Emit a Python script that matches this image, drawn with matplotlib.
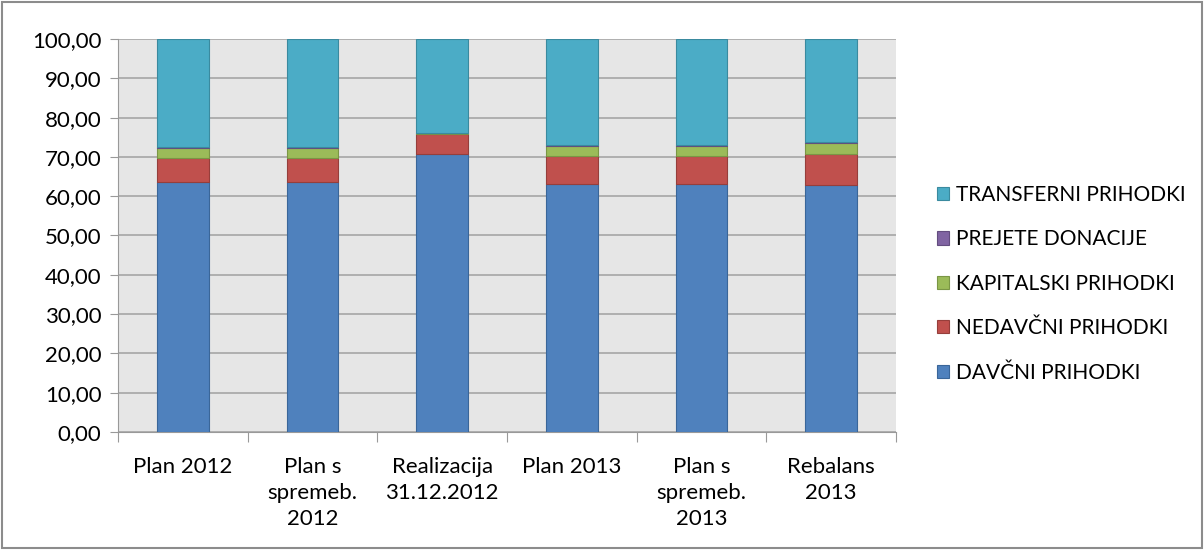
import numpy as np
import matplotlib.pyplot as plt
from matplotlib.patches import Rectangle

plt.rcParams['font.family'] = ['Lato', 'DejaVu Sans']

categories = ["Plan 2012", "Plan s\nspremeb.\n2012", "Realizacija\n31.12.2012",
              "Plan 2013", "Plan s\nspremeb.\n2013", "Rebalans\n2013"]

davcni = [63.7, 63.7, 70.7, 63.1, 63.1, 62.8]
nedavcni = [6.1, 6.1, 5.0, 7.1, 7.1, 7.9]
kapitalski = [2.5, 2.5, 0.3, 2.7, 2.7, 2.8]
donacije = [0.2, 0.2, 0.1, 0.1, 0.1, 0.3]
transferni = [100 - a - b - c - d for a, b, c, d in zip(davcni, nedavcni, kapitalski, donacije)]

series = [
    ("DAVČNI PRIHODKI", davcni, "#4F81BD", "#3A6699"),
    ("NEDAVČNI PRIHODKI", nedavcni, "#C0504D", "#963E3B"),
    ("KAPITALSKI PRIHODKI", kapitalski, "#9BBB59", "#7A9645"),
    ("PREJETE DONACIJE", donacije, "#8064A2", "#634D7F"),
    ("TRANSFERNI PRIHODKI", transferni, "#4BACC6", "#3A8A9F"),
]

fig = plt.figure(figsize=(12.04, 5.5), dpi=100)
ax = fig.add_axes([118 / 1204, 118 / 550, 778 / 1204, 393 / 550])
ax.set_facecolor("#E6E6E6")

x = np.arange(len(categories))
bottom = np.zeros(len(categories))
handles = []
for name, vals, col, edge in series:
    b = ax.bar(x, vals, 0.4, bottom=bottom, color=col, edgecolor=edge,
               linewidth=0.8, label=name, zorder=3)
    bottom += np.array(vals)
    handles.append(b)

ax.set_xlim(-0.5, len(categories) - 0.5)
ax.set_ylim(0, 100)
ax.set_yticks(np.arange(0, 101, 10))
ax.set_yticklabels([f"{v:.2f}".replace(".", ",") for v in np.arange(0, 101, 10)])
ax.yaxis.grid(True, color="#A6A6A6", linewidth=1.2, zorder=0)

# category boundaries get the tick marks, labels sit in between
ax.set_xticks(np.arange(-0.5, len(categories)), minor=False)
ax.set_xticklabels([])
ax.set_xticks(x, minor=True)
ax.set_xticklabels(categories, minor=True, fontsize=16, linespacing=1.37, va="top")
ax.tick_params(axis="x", which="minor", length=0, pad=18)
ax.tick_params(axis="x", which="major", length=7, color="#999999", direction="out")
ax.tick_params(axis="y", length=6, color="#999999", labelsize=16, pad=6)

for s in ["top", "right"]:
    ax.spines[s].set_visible(False)
for s in ["left", "bottom"]:
    ax.spines[s].set_color("#999999")

leg = fig.legend(handles[::-1], [s[0] for s in series][::-1], loc="center left",
                 bbox_to_anchor=(918 / 1204, 0.484), frameon=False, fontsize=15,
                 handlelength=0.6, handleheight=0.6, handletextpad=0.3,
                 labelspacing=1.17)

fig.patches.append(Rectangle((0.002, 0.003), 0.996, 0.994, transform=fig.transFigure,
                             fill=False, edgecolor="#8C8C8C", linewidth=1.5))

fig.savefig("out.png", dpi=100)
